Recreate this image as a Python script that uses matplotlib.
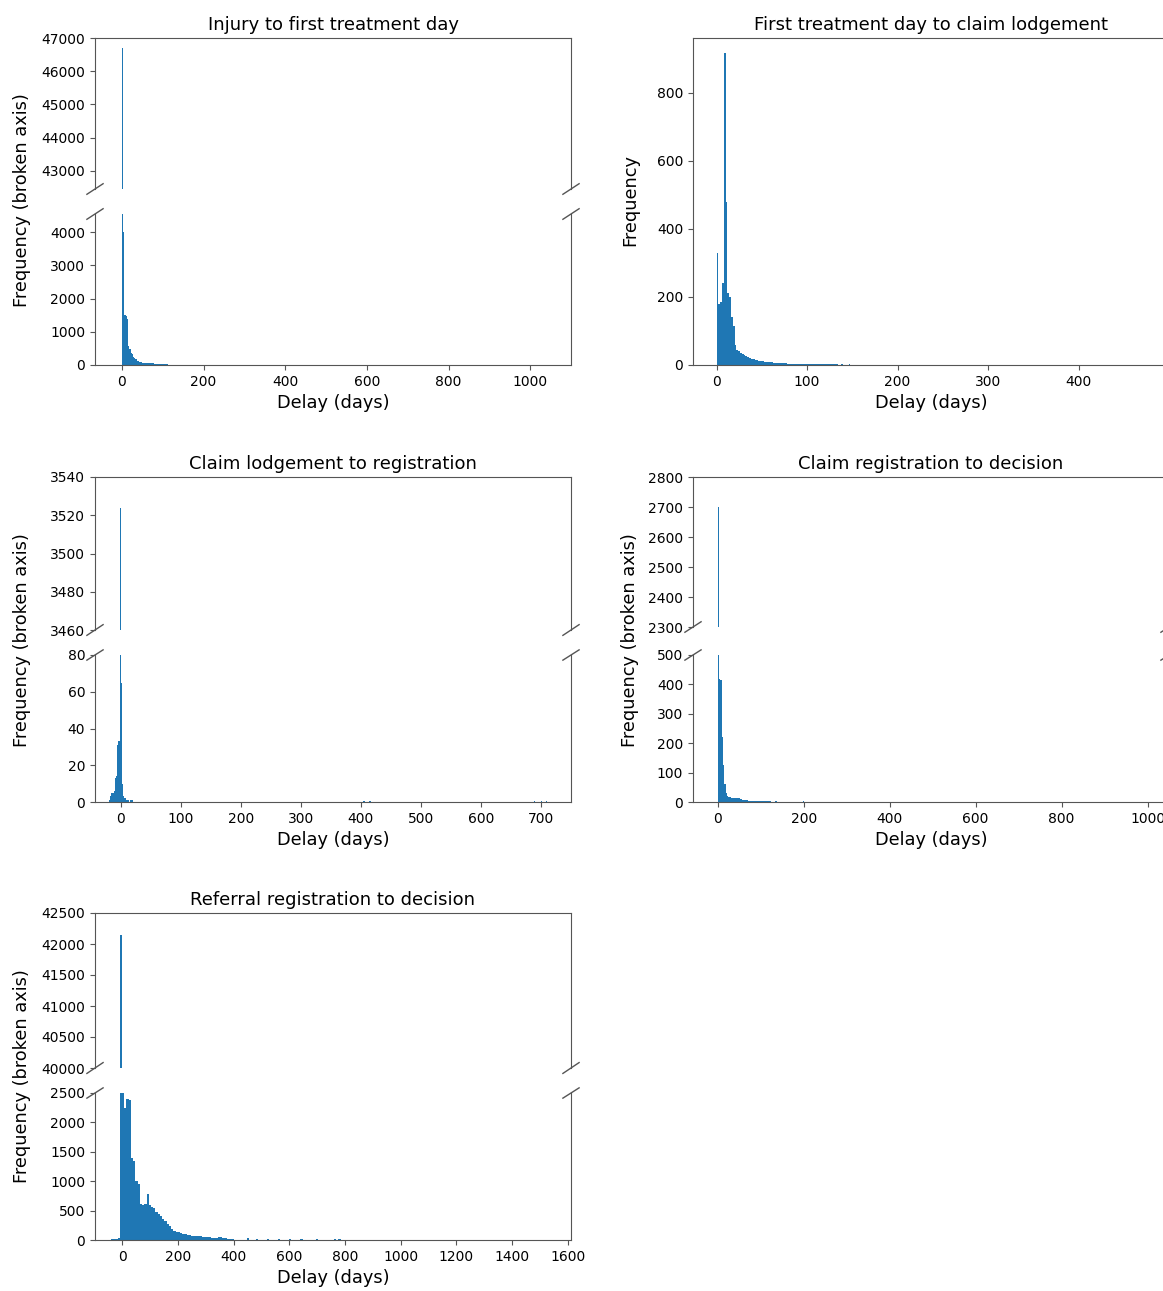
import matplotlib.pyplot as plt
import numpy as np

plt.rcParams["axes.formatter.useoffset"] = False
plt.rcParams["font.family"] = "DejaVu Sans"

BLUE = "#1f77b4"
SPINE = "#555555"
W, H = 1163, 1291

# histogram counts per bin (first bin edge, bin width in days)
inj_start, inj_width = 0, 3
inj_counts = [46700, 4000, 1500, 1480, 1400, 560, 480, 360, 330, 230, 200, 170,
              130, 110, 100, 90, 75, 70, 65, 60, 58, 55, 52, 50, 48, 46, 44, 42,
              40, 38, 36, 34, 32, 30, 28, 26, 24, 20, 15, 10]

lodge_start, lodge_width = 0, 2
lodge_counts = [330, 180, 185, 240, 915, 480, 210, 200, 140, 115, 60, 45, 40, 36,
                32, 28, 25, 23, 21, 19, 17, 15, 14, 13, 12, 11, 10, 9, 9, 8, 8, 7,
                7, 6, 6, 6, 5, 5, 5, 4, 4, 4, 4, 3, 3, 3, 3, 3, 2, 2, 2, 2, 3, 2,
                2, 2, 3, 2, 2, 2, 2, 2, 2, 2, 3, 2, 2, 1, 1, 2, 1, 1, 1, 2, 1, 1,
                1, 1, 1, 1]

reg_start, reg_width = -20, 2
reg_counts = [1, 3, 5, 5, 6, 13, 14, 31, 33, 3524, 65, 10, 3, 2, 1, 1, 1, 0, 1, 1]
reg_tail_days = [405, 415, 688, 700, 708]
reg_tail_counts = [0.6, 0.6, 0.6, 0.6, 0.6]

dec_start, dec_width = 0, 3
dec_counts = [2700, 420, 415, 220, 125, 60, 30, 20, 18, 16, 15, 15, 14, 14, 13,
              12, 12, 11, 10, 8, 7, 6, 6, 5, 5, 5, 4, 4, 4, 3, 3, 3, 3, 2, 2, 2,
              2, 2, 2, 2, 2, 1, 1, 1, 2, 2, 1, 1, 1, 1]
dec_tail_days = [200, 420, 880]
dec_tail_counts = [2, 1, 1]

ref_start, ref_width = -8, 8
ref_counts = [42150, 2500, 2250, 2400, 2380, 1400, 1350, 1000, 950, 620, 600, 620,
              780, 600, 560, 540, 480, 440, 400, 360, 320, 270, 230, 190, 160, 140,
              130, 115, 100, 95, 90, 80, 75, 70, 65, 62, 60, 55, 50, 48, 45, 42,
              40, 38, 45, 50, 40, 30, 25, 22, 20]
ref_tail_days = [-40, -30, -20, -12, 450, 480, 520, 560, 600, 640, 700, 760, 780]
ref_tail_counts = [15, 20, 25, 30, 30, 25, 20, 15, 25, 10, 10, 20, 10]


def hist_input(start, width, counts, tail_days=(), tail_counts=()):
    centers = start + width * (np.arange(len(counts)) + 0.5)
    x = np.concatenate([centers, np.asarray(tail_days, float)])
    w = np.concatenate([np.asarray(counts, float), np.asarray(tail_counts, float)])
    lo = min(start, x.min() - width)
    hi = max(x.max() + width, start + width * len(counts))
    n_lo = int(np.ceil((start - lo) / width))
    edges = start + width * np.arange(-n_lo, int(np.ceil((hi - start) / width)) + 1)
    return x, w, edges


fig = plt.figure(figsize=(W / 100, H / 100), dpi=100)


def px_axes(left, top, right, bottom):
    return fig.add_axes([left / W, 1 - bottom / H, (right - left) / W, (bottom - top) / H])


def style(ax):
    for s in ax.spines.values():
        s.set_color(SPINE)
    ax.tick_params(labelsize=10, color=SPINE)


def draw(ax, data):
    x, w, edges = data
    ax.hist(x, bins=edges, weights=w, color=BLUE)


def broken(box_top, box_bot, data, xlim, xticks, top_lim, top_ticks, bot_lim, bot_ticks, title):
    ax_t = px_axes(*box_top)
    ax_b = px_axes(*box_bot)
    for ax in (ax_t, ax_b):
        draw(ax, data)
        ax.set_xlim(xlim)
        ax.set_xticks(xticks)
        style(ax)
    ax_t.set_ylim(top_lim)
    ax_t.set_yticks(top_ticks)
    ax_b.set_ylim(bot_lim)
    ax_b.set_yticks(bot_ticks)
    ax_t.spines["bottom"].set_visible(False)
    ax_b.spines["top"].set_visible(False)
    ax_t.tick_params(bottom=False, labelbottom=False)
    ax_t.set_title(title, fontsize=13, pad=6)
    ax_b.set_xlabel("Delay (days)", fontsize=12.8)
    # diagonal break marks
    dx, dy = 0.017, 0.035
    kw = dict(color=SPINE, clip_on=False, lw=1)
    for x0 in (0, 1):
        ax_t.plot((x0 - dx, x0 + dx), (-dy, dy), transform=ax_t.transAxes, **kw)
        ax_b.plot((x0 - dx, x0 + dx), (1 - dy, 1 + dy), transform=ax_b.transAxes, **kw)
    return ax_t, ax_b


def ylabel(text, x, y):
    fig.text(x / W, 1 - y / H, text, rotation=90, ha="center", va="center", fontsize=12.8)


# Injury to first treatment day
broken((95, 38, 571, 189), (95, 214, 571, 365),
       hist_input(inj_start, inj_width, inj_counts),
       (-66, 1100), range(0, 1001, 200),
       (42450, 47000), range(43000, 47001, 1000),
       (0, 4550), range(0, 4001, 1000),
       "Injury to first treatment day")
ylabel("Frequency (broken axis)", 22, 200)

# First treatment day to claim lodgement
ax = px_axes(693, 38, 1169, 365)
draw(ax, hist_input(lodge_start, lodge_width, lodge_counts))
ax.set_xlim(-26, 500)
ax.set_xticks(range(0, 401, 100))
ax.set_ylim(0, 960)
ax.set_yticks(range(0, 801, 200))
style(ax)
ax.set_title("First treatment day to claim lodgement", fontsize=13, pad=6)
ax.set_xlabel("Delay (days)", fontsize=12.8)
ylabel("Frequency", 630, 200)

# Claim lodgement to registration
broken((95, 477, 571, 630), (95, 655, 571, 802),
       hist_input(reg_start, reg_width, reg_counts, reg_tail_days, reg_tail_counts),
       (-43, 750), range(0, 701, 100),
       (3460, 3540), range(3460, 3541, 20),
       (0, 80), range(0, 81, 20),
       "Claim lodgement to registration")
ylabel("Frequency (broken axis)", 22, 640)

# Claim registration to decision
broken((693, 477, 1169, 627), (693, 655, 1169, 802),
       hist_input(dec_start, dec_width, dec_counts, dec_tail_days, dec_tail_counts),
       (-58, 1050), range(0, 1001, 200),
       (2300, 2800), range(2300, 2801, 100),
       (0, 500), range(0, 501, 100),
       "Claim registration to decision")
ylabel("Frequency (broken axis)", 630, 640)

# Referral registration to decision
broken((95, 913, 571, 1068), (95, 1093, 571, 1240),
       hist_input(ref_start, ref_width, ref_counts, ref_tail_days, ref_tail_counts),
       (-97, 1611), range(0, 1601, 200),
       (40000, 42500), range(40000, 42501, 500),
       (0, 2500), range(0, 2501, 500),
       "Referral registration to decision")
ylabel("Frequency (broken axis)", 22, 1076)

fig.savefig("out.png", dpi=100)
